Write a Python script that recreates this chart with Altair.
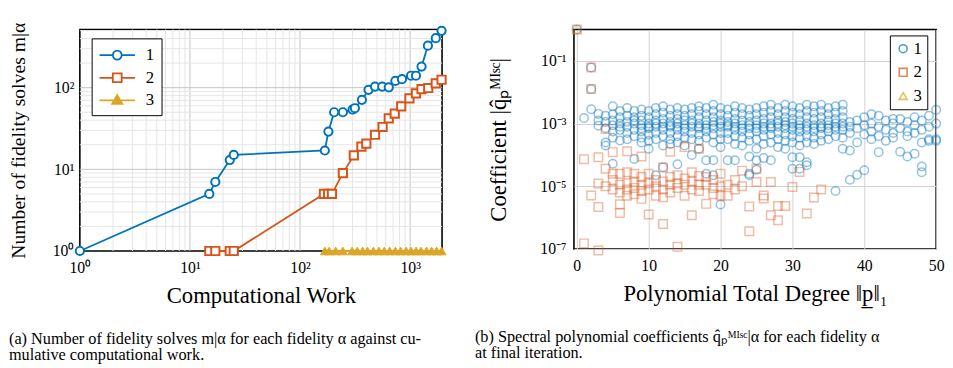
import altair as alt
import pandas as pd

FONT = "Liberation Serif"
BLUE = "#0072BD"
RED = "#D95319"
YEL = "#DBA626"

# ---------------- Left panel: fidelity solves vs computational work ----------------
work_1 = [1, 15, 17, 23, 25, 168, 181, 204, 245, 300, 315, 365, 419, 480, 558, 640, 735, 843,
          1020, 1130, 1270, 1450, 1710, 1930]
solves_1 = [1, 5, 7, 13, 15, 17, 29, 50, 50, 54, 56, 71, 94, 103, 103, 101, 121, 127,
            140, 140, 181, 327, 404, 496]
work_2 = [15, 17, 23, 25, 165, 180, 195, 245, 308, 361, 400, 480, 562, 640, 725, 830, 986,
          1130, 1270, 1460, 1710, 1930]
solves_2 = [1, 1, 1, 1, 5, 5, 5, 9, 14.8, 19, 20.6, 26.5, 33, 42, 48, 59, 74,
            85, 96, 99, 113, 125]
work_3 = [168, 184, 211, 245, 297, 330, 371, 410, 464, 521, 582, 653, 735, 819, 920, 1020,
          1132, 1254, 1410, 1570, 1742, 1930]
solves_3 = [1] * len(work_3)

x_minor = [2, 3, 4, 5, 6, 7, 8, 9, 20, 30, 40, 50, 60, 70, 80, 90,
           200, 300, 400, 500, 600, 700, 800, 900]
x_major = [10, 100, 1000]
y_minor = [2, 3, 4, 5, 6, 7, 8, 9, 20, 30, 40, 50, 60, 70, 80, 90, 200, 300, 400, 500]
y_major = [10, 100]

# ---------------- Right panel: spectral coefficients (log10 values) ----------------
coef_1 = {
    0: [0.0], 1: [-2.82], 2: [-1.21, -1.9, -2.54], 3: [-2.69, -2.9, -3.07],
    4: [-2.75, -2.95, -3.15, -3.6, -3.7],
    5: [-2.45, -2.7, -2.9, -3.05, -3.25, -3.45, -4.28],
    6: [-2.6, -2.8, -3.0, -3.1, -3.2, -3.54],
    7: [-2.5, -2.75, -2.95, -3.1, -3.3, -3.5],
    8: [-2.6, -2.8, -2.9, -3.0, -3.2, -3.4, -4.13],
    9: [-2.55, -2.75, -2.9, -3.05, -3.15, -3.25, -3.45, -3.6],
    10: [-2.6, -2.8, -3.0, -3.1, -3.15, -3.35, -3.55, -3.8],
    11: [-2.5, -2.7, -2.9, -3.0, -3.1, -3.3, -3.5, -4.65],
    12: [-2.45, -2.65, -2.85, -3.0, -3.1, -3.2, -3.4, -3.7, -4.39],
    13: [-2.55, -2.75, -2.95, -3.05, -3.1, -3.3, -3.5, -3.65],
    14: [-2.5, -2.7, -2.85, -3.0, -3.1, -3.2, -3.4, -3.6, -4.3],
    15: [-2.55, -2.75, -2.9, -3.05, -3.15, -3.25, -3.45, -3.7],
    16: [-2.5, -2.7, -2.9, -3.0, -3.1, -3.3, -3.5, -4.0],
    17: [-2.45, -2.6, -2.8, -3.0, -3.1, -3.15, -3.35, -3.55, -3.8],
    18: [-2.5, -2.7, -2.9, -3.05, -3.15, -3.25, -3.45, -4.17, -4.6],
    19: [-2.4, -2.6, -2.8, -2.95, -3.05, -3.15, -3.35, -3.6, -4.17, -4.65],
    20: [-2.5, -2.7, -2.9, -3.0, -3.1, -3.3, -3.5, -3.75, -5.58],
    21: [-2.55, -2.75, -2.95, -3.05, -3.1, -3.3, -3.5, -4.17],
    22: [-2.45, -2.65, -2.85, -3.0, -3.1, -3.2, -3.4, -3.65, -4.17],
    23: [-2.5, -2.7, -2.9, -3.05, -3.15, -3.25, -3.45, -3.7],
    24: [-2.55, -2.75, -2.95, -3.05, -3.15, -3.35, -3.55, -4.05, -4.6, -4.65],
    25: [-2.5, -2.7, -2.9, -3.05, -3.15, -3.25, -3.5, -3.8, -4.17, -4.47],
    26: [-2.45, -2.65, -2.85, -3.0, -3.1, -3.2, -3.4, -3.65, -4.1],
    27: [-2.4, -2.6, -2.8, -3.0, -3.1, -3.15, -3.35, -3.6, -4.17],
    28: [-2.5, -2.7, -2.9, -3.0, -3.1, -3.3, -3.5, -3.75],
    29: [-2.4, -2.6, -2.8, -2.95, -3.05, -3.15, -3.35, -3.55, -3.8],
    30: [-2.45, -2.65, -2.85, -3.0, -3.1, -3.2, -3.4, -3.6, -4.07, -4.44],
    31: [-2.5, -2.7, -2.9, -3.05, -3.15, -3.25, -3.45, -3.7, -4.07, -4.44],
    32: [-2.4, -2.6, -2.8, -3.0, -3.1, -3.2, -3.4, -3.6, -4.23, -4.33],
    33: [-2.45, -2.65, -2.85, -3.05, -3.15, -3.25, -3.45, -3.65],
    34: [-2.4, -2.6, -2.8, -3.0, -3.1, -3.15, -3.35, -3.55],
    35: [-2.5, -2.7, -2.9, -3.05, -3.15, -3.25, -3.5],
    36: [-2.45, -2.65, -2.85, -3.0, -3.1, -3.2, -3.4, -5.15],
    37: [-2.4, -2.6, -2.8, -3.0, -3.1, -3.2, -3.45, -3.8],
    38: [-2.95, -3.1, -3.3, -3.86, -4.79], 39: [-2.9, -3.15, -3.6, -4.63],
    40: [-2.8, -3.05, -3.35, -4.49], 41: [-2.7, -3.0, -3.25, -3.5],
    42: [-2.75, -3.1, -3.4, -3.91], 43: [-2.9, -3.2, -3.55], 44: [-2.85, -3.0, -3.3, -3.45],
    45: [-2.85, -3.15, -3.9], 46: [-2.95, -3.25, -3.4, -4.05], 47: [-2.8, -3.05, -3.3, -3.96],
    48: [-2.9, -3.2, -3.6, -4.37, -4.55], 49: [-2.75, -3.1, -3.5, -3.55],
    50: [-2.56, -3.0, -3.5, -3.55],
}
coef_2 = {
    0: [0.0], 1: [-4.14, -6.82], 2: [-1.21, -1.9, -5.29], 3: [-4.07, -4.91, -5.66, -7.05],
    4: [-3.17, -4.44, -5.0], 5: [-3.91, -4.6, -4.8, -5.1], 6: [-4.6, -4.95, -5.2, -5.57, -5.85],
    7: [-3.88, -4.55, -4.9, -5.1, -5.3], 8: [-4.6, -4.85, -5.05, -5.25],
    9: [-4.05, -4.7, -4.95, -5.15, -5.4], 10: [-4.6, -4.9, -5.1, -5.9], 11: [-4.8, -5.0, -5.3],
    12: [-4.4, -4.85, -5.1, -5.35, -6.2], 13: [-3.9, -4.7, -4.95, -5.2],
    14: [-4.65, -4.9, -5.05, -6.93], 15: [-3.75, -4.75, -4.95, -5.3],
    16: [-4.55, -4.85, -5.1, -5.92], 17: [-3.8, -4.67, -4.95, -5.15], 18: [-4.7, -4.95, -5.56],
    19: [-4.8, -5.05, -5.25], 20: [-4.6, -5.0, -5.3], 21: [-4.95, -5.3], 22: [-4.8, -5.1],
    23: [-4.5, -5.0], 24: [-5.64, -6.43], 25: [-4.44, -4.86], 26: [-5.29, -5.39],
    27: [-4.86, -5.92], 28: [-5.63, -6.08], 29: [-5.63], 30: [-5.02], 31: [-4.54],
    32: [-5.87], 33: [-5.36], 34: [-5.1],
}
coef_3 = {0: [0.0]}

SERIES = ["1", "2", "3"]

# ---------------- build tables ----------------
left_df = pd.DataFrame({
    "work": work_1 + work_2 + work_3,
    "m": solves_1 + solves_2 + solves_3,
    "series": ["1"] * len(work_1) + ["2"] * len(work_2) + ["3"] * len(work_3),
})

rows = []
for s, d in zip(SERIES, [coef_1, coef_2, coef_3]):
    for deg, exps in d.items():
        for e in exps:
            rows.append({"deg": deg, "coef": 10 ** e, "grp": s})
right_df = pd.DataFrame(rows)

# ---------------- left chart ----------------
xs = alt.Scale(type="log", domain=[1, 1950], nice=False)
ys = alt.Scale(type="log", domain=[1, 515], nice=False)
sup = "['⁰','¹','²','³','⁴','⁵','⁶','⁷','⁸','⁹']"
x_axis = alt.Axis(title="Computational Work", values=[1, 10, 100, 1000], grid=False, ticks=False,
                  domain=False, labelExpr="'10' + " + sup + "[round(log(datum.value)/LN10)]",
                  labelPadding=9, titlePadding=9, labelFlush=False)
y_axis = alt.Axis(title="Number of fidelity solves m|α", values=[1, 10, 100], grid=False, ticks=False,
                  domain=False, labelExpr="'10' + " + sup + "[round(log(datum.value)/LN10)]",
                  labelPadding=6, titlePadding=24, labelFlush=False, titleFontSize=20)

X = alt.X("work:Q", scale=xs, axis=x_axis)
Y = alt.Y("m:Q", scale=ys, axis=y_axis)

gx_minor = alt.Chart(pd.DataFrame({"work": x_minor})).mark_rule(color="#E6E6E6", strokeWidth=1).encode(x=X)
gx_major = alt.Chart(pd.DataFrame({"work": x_major})).mark_rule(color="#C4C4C4", strokeWidth=1).encode(x=X)
gy_minor = alt.Chart(pd.DataFrame({"m": y_minor})).mark_rule(color="#E6E6E6", strokeWidth=1).encode(y=Y)
gy_major = alt.Chart(pd.DataFrame({"m": y_major})).mark_rule(color="#C4C4C4", strokeWidth=1).encode(y=Y)

base = alt.Chart(left_df)
layers = [gx_minor, gx_major, gy_minor, gy_major]
for s, col in zip(SERIES, [BLUE, RED, YEL]):
    layers.append(base.transform_filter(f"datum.series == '{s}'").mark_line(
        strokeWidth=1.8, color=col).encode(x=X, y=Y))
layers.append(base.transform_filter("datum.series == '1'").mark_point(
    shape="circle", filled=True, fill="white", stroke=BLUE, strokeWidth=2, size=70, opacity=1).encode(x=X, y=Y))
layers.append(base.transform_filter("datum.series == '2'").mark_point(
    shape="square", filled=True, fill="white", stroke=RED, strokeWidth=2, size=70, opacity=1).encode(x=X, y=Y))
layers.append(base.transform_filter("datum.series == '3'").mark_point(
    shape="triangle-up", filled=True, fill=YEL, stroke=YEL, strokeWidth=1, size=80, opacity=1).encode(x=X, y=Y))

# legend glyphs: a short line with the marker in its middle (symbol paths, unit box)
circ = ("M-0.5,0C-0.5,-0.276,-0.276,-0.5,0,-0.5C0.276,-0.5,0.5,-0.276,0.5,0"
        "C0.5,0.276,0.276,0.5,0,0.5C-0.276,0.5,-0.5,0.276,-0.5,0Z")
path_c = "M-2,0L-0.5,0M0.5,0L2,0M" + circ[1:]
path_s = "M-2,0L-0.5,0M0.5,0L2,0M-0.5,-0.5L0.5,-0.5L0.5,0.5L-0.5,0.5Z"
path_t = "M-2,0L2,0M0,-0.6L0.58,0.4L-0.58,0.4Z"
left_legend = alt.Legend(title=None, orient="none", legendX=12, legendY=9, strokeColor="black",
                         fillColor="white", padding=7, symbolSize=324, symbolStrokeWidth=1.8,
                         symbolOffset=9, labelOffset=19, rowPadding=4, labelFont=FONT,
                         labelFontSize=17, labelColor="black")
layers.append(base.transform_filter("false").mark_point(filled=True, opacity=1).encode(
    x=X, y=Y,
    stroke=alt.Stroke("series:N", scale=alt.Scale(domain=SERIES, range=[BLUE, RED, YEL]), legend=left_legend),
    fill=alt.Fill("series:N", scale=alt.Scale(domain=SERIES, range=["white", "white", YEL]), legend=left_legend),
    shape=alt.Shape("series:N", scale=alt.Scale(domain=SERIES, range=[path_c, path_s, path_t]), legend=left_legend),
))

caption_a = alt.TitleParams(
    text=["(a) Number of fidelity solves m|α for each fidelity α against cu-", "mulative computational work."],
    orient="bottom", anchor="start", frame="bounds", font=FONT, fontSize=16.5, fontWeight="normal",
    lineHeight=17, offset=24, color="black")

left = alt.layer(*layers).properties(width=368, height=225, title=caption_a)

# ---------------- right chart ----------------
xs2 = alt.Scale(domain=[-0.4, 50], nice=False, zero=False)
ys2 = alt.Scale(type="log", domain=[1e-7, 1], nice=False)
x2_axis = alt.Axis(title="Polynomial Total Degree ‖p̲‖₁", values=[0, 10, 20, 30, 40, 50], grid=True,
                   gridColor="#D2D2D2", ticks=False, domain=False, labelPadding=9, titlePadding=9,
                   labelFlush=False)
y2_axis = alt.Axis(title="Coefficient |q̂ₚᴹᴵˢᶜ|", values=[1e-7, 1e-5, 1e-3, 1e-1], grid=True,
                   gridColor="#D2D2D2", ticks=False, domain=False,
                   labelExpr="'10⁻' + " + sup + "[round(-log(datum.value)/LN10)]",
                   labelPadding=8, titlePadding=30, labelFlush=False)
right_legend = alt.Legend(title=None, orient="none", legendX=321, legendY=6, strokeColor="black",
                          fillColor="white", padding=5, symbolSize=65, symbolStrokeWidth=1.6,
                          rowPadding=6, labelOffset=2, labelFont=FONT, labelFontSize=17,
                          labelColor="black")
right_pts = alt.Chart(right_df).mark_point(filled=False, strokeWidth=1.5, size=75).encode(
    x=alt.X("deg:Q", scale=xs2, axis=x2_axis),
    y=alt.Y("coef:Q", scale=ys2, axis=y2_axis),
    stroke=alt.Stroke("grp:N", scale=alt.Scale(domain=SERIES, range=[BLUE, RED, YEL]), legend=right_legend),
    shape=alt.Shape("grp:N", scale=alt.Scale(domain=SERIES, range=["circle", "square", "triangle-up"]),
                    legend=right_legend),
    strokeOpacity=alt.StrokeOpacity("grp:N", scale=alt.Scale(domain=SERIES, range=[0.6, 0.5, 1.0]),
                                    legend=right_legend),
)
caption_b = alt.TitleParams(
    text=["(b) Spectral polynomial coefficients q̂ₚᴹᴵˢᶜ|α for each fidelity α", "at final iteration."],
    orient="bottom", anchor="start", frame="bounds", font=FONT, fontSize=16.5, fontWeight="normal",
    lineHeight=17, offset=24, dx=-13, color="black")
right = right_pts.properties(width=368, height=223, title=caption_b)

indep = dict(stroke="independent", fill="independent", shape="independent", strokeOpacity="independent")
chart = alt.hconcat(left, right, spacing=23).resolve_scale(**indep).resolve_legend(**indep).properties(
    padding={"left": 0, "top": 10, "right": 0, "bottom": 0}
).configure_view(stroke="black", strokeWidth=1.6).configure_axis(
    labelFont=FONT, labelFontSize=16, labelColor="black", titleFont=FONT, titleFontSize=23,
    titleFontWeight="normal", titleColor="black"
)

chart.save("out.html", embed_options={"renderer": "svg", "actions": False})
